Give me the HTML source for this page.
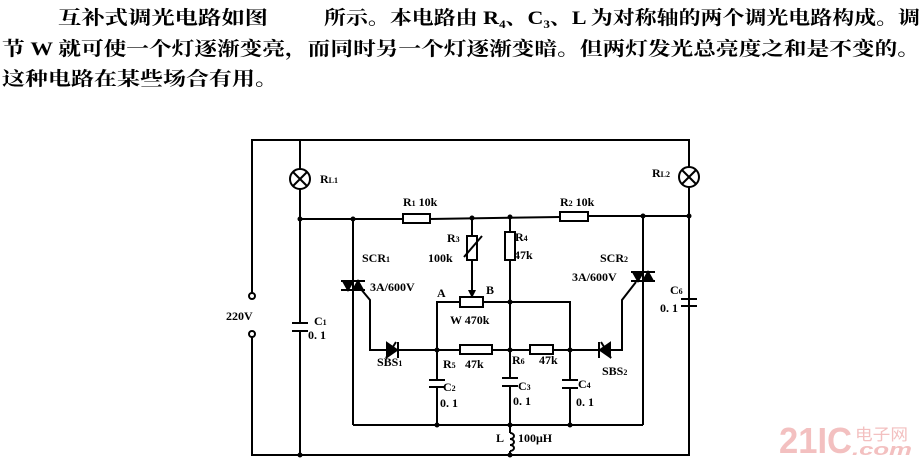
<!DOCTYPE html>
<html><head><meta charset="utf-8"><style>
html,body{margin:0;padding:0;background:#fff;}
svg{display:block;}
text{font-family:"Liberation Serif","Noto Serif CJK SC",serif;fill:#000;}
.c{font-family:"Liberation Serif","Noto Serif CJK SC",serif;font-size:19px;font-weight:bold;}
.l{font-size:12px;font-weight:bold;}
</style></head><body>
<svg width="924" height="467" viewBox="0 0 924 467" xmlns="http://www.w3.org/2000/svg">
<text class="c" x="58" y="24" textLength="210" lengthAdjust="spacingAndGlyphs">互补式调光电路如图</text>
<text class="c" x="324" y="24" textLength="596" lengthAdjust="spacingAndGlyphs">所示。本电路由 R₄、C₃、L 为对称轴的两个调光电路构成。调</text>
<text class="c" x="2" y="55" textLength="918" lengthAdjust="spacingAndGlyphs">节 W 就可使一个灯逐渐变亮，而同时另一个灯逐渐变暗。但两灯发光总亮度之和是不变的。</text>
<text class="c" x="2" y="85" textLength="276" lengthAdjust="spacingAndGlyphs">这种电路在某些场合有用。</text>

<g stroke="#000" stroke-width="2" fill="none">
<polyline points="252,293 252,140 689,140 689,167"/>
<polyline points="252,337 252,455 689,455 689,187"/>
<circle cx="252" cy="296" r="3"/>
<circle cx="252" cy="334" r="3"/>
<line x1="300" y1="140" x2="300" y2="169"/>
<line x1="300" y1="189" x2="300" y2="323"/>
<line x1="300" y1="331" x2="300" y2="455"/>
<circle cx="300" cy="179" r="10"/>
<line x1="293" y1="172" x2="307" y2="186"/><line x1="307" y1="172" x2="293" y2="186"/>
<line x1="292" y1="323" x2="308" y2="323"/><line x1="292" y1="331" x2="308" y2="331"/>
<circle cx="689" cy="177" r="10"/>
<line x1="682" y1="170" x2="696" y2="184"/><line x1="696" y1="170" x2="682" y2="184"/>
<line x1="689" y1="187" x2="689" y2="299"/>
<line x1="681" y1="299" x2="697" y2="299"/><line x1="681" y1="306" x2="697" y2="306"/>
<line x1="300" y1="219" x2="403" y2="219"/>
<rect x="403" y="214" width="27" height="9"/>
<line x1="430" y1="219" x2="560" y2="217"/>
<rect x="560" y="212" width="28" height="9"/>
<line x1="588" y1="216" x2="689" y2="216"/>
<line x1="353" y1="219" x2="353" y2="425"/>
<line x1="353" y1="425" x2="643" y2="425"/>
<line x1="643" y1="216" x2="643" y2="425"/>
<polygon points="343,281 353,281 348,290" fill="#000"/>
<polygon points="353,290 363,290 358,281" fill="#000"/>
<line x1="341" y1="281" x2="365" y2="281"/><line x1="341" y1="290" x2="365" y2="290"/>
<polyline points="360,288 370,300 370,350 437,350"/>
<polygon points="387,343 387,357 397,350" fill="#000"/>
<line x1="398" y1="342" x2="398" y2="358"/><line x1="396" y1="342" x2="386" y2="358"/>
<polygon points="633,272 643,272 638,281" fill="#000"/>
<polygon points="643,281 653,281 648,272" fill="#000"/>
<line x1="631" y1="272" x2="655" y2="272"/><line x1="631" y1="281" x2="655" y2="281"/>
<polyline points="636,282 622,300 622,350 570,350"/>
<polygon points="610,343 610,357 600,350" fill="#000"/>
<line x1="599" y1="342" x2="599" y2="358"/><line x1="601" y1="342" x2="611" y2="358"/>
<line x1="437" y1="350" x2="460" y2="350"/>
<rect x="460" y="345" width="32" height="9"/>
<line x1="492" y1="350" x2="530" y2="350"/>
<rect x="530" y="345" width="23" height="9"/>
<line x1="553" y1="350" x2="570" y2="350"/>
<polyline points="437,350 437,302 460,302"/>
<rect x="460" y="297" width="23" height="10"/>
<polyline points="483,302 570,302 570,380"/>
<line x1="570" y1="388" x2="570" y2="425"/>
<line x1="562" y1="380" x2="578" y2="380"/><line x1="562" y1="388" x2="578" y2="388"/>
<line x1="472" y1="218" x2="472" y2="236"/>
<rect x="467" y="236" width="10" height="24"/>
<line x1="472" y1="260" x2="472" y2="292"/>
<line x1="464" y1="257" x2="482" y2="236"/>
<line x1="510" y1="217" x2="510" y2="232"/>
<rect x="505" y="232" width="10" height="28"/>
<line x1="510" y1="260" x2="510" y2="378"/>
<line x1="510" y1="386" x2="510" y2="433"/>
<line x1="502" y1="378" x2="518" y2="378"/><line x1="502" y1="386" x2="518" y2="386"/>
<path d="M510,433 a4,3 0 1 1 0,6 a4,3 0 1 1 0,6 a4,3 0 1 1 0,6"/>
<line x1="510" y1="451" x2="510" y2="455"/>
<line x1="437" y1="350" x2="437" y2="380"/>
<line x1="429" y1="380" x2="445" y2="380"/><line x1="429" y1="387" x2="445" y2="387"/>
<line x1="437" y1="387" x2="437" y2="425"/>
</g>
<polygon points="468,290 476,290 472,298" fill="#000"/>
<g fill="#000">
<circle cx="300" cy="219" r="2.5"/><circle cx="353" cy="219" r="2.5"/><circle cx="472" cy="218" r="2.5"/>
<circle cx="510" cy="217" r="2.5"/><circle cx="643" cy="216" r="2.5"/><circle cx="689" cy="216" r="2.5"/>
<circle cx="437" cy="350" r="2.5"/><circle cx="510" cy="350" r="2.5"/><circle cx="570" cy="350" r="2.5"/>
<circle cx="510" cy="302" r="2.5"/><circle cx="437" cy="425" r="2.5"/><circle cx="510" cy="425" r="2.5"/>
<circle cx="570" cy="425" r="2.5"/><circle cx="300" cy="455" r="2.5"/><circle cx="510" cy="455" r="2.5"/>
</g>
<g class="l">
<text class="l" x="320" y="183">R<tspan font-size="8">L1</tspan></text>
<text class="l" x="403" y="206">R<tspan font-size="8">1</tspan> 10k</text>
<text class="l" x="447" y="242">R<tspan font-size="8">3</tspan></text>
<text class="l" x="428" y="262">100k</text>
<text class="l" x="362" y="262">SCR<tspan font-size="8">1</tspan></text>
<text class="l" x="370" y="291">3A/600V</text>
<text class="l" x="437" y="297">A</text>
<text class="l" x="486" y="294">B</text>
<text class="l" x="450" y="324">W 470k</text>
<text class="l" x="226" y="320">220V</text>
<text class="l" x="314" y="325">C<tspan font-size="8">1</tspan></text>
<text class="l" x="308" y="339">0. 1</text>
<text class="l" x="377" y="366">SBS<tspan font-size="8">1</tspan></text>
<text class="l" x="443" y="368">R<tspan font-size="8">5</tspan></text>
<text class="l" x="465" y="368">47k</text>
<text class="l" x="443" y="391">C<tspan font-size="8">2</tspan></text>
<text class="l" x="440" y="407">0. 1</text>
<text class="l" x="515" y="241">R<tspan font-size="8">4</tspan></text>
<text class="l" x="514" y="259">47k</text>
<text class="l" x="512" y="364">R<tspan font-size="8">6</tspan></text>
<text class="l" x="539" y="364">47k</text>
<text class="l" x="518" y="390">C<tspan font-size="8">3</tspan></text>
<text class="l" x="513" y="405">0. 1</text>
<text class="l" x="578" y="388">C<tspan font-size="8">4</tspan></text>
<text class="l" x="576" y="406">0. 1</text>
<text class="l" x="560" y="206">R<tspan font-size="8">2</tspan> 10k</text>
<text class="l" x="652" y="177">R<tspan font-size="8">L2</tspan></text>
<text class="l" x="600" y="262">SCR<tspan font-size="8">2</tspan></text>
<text class="l" x="572" y="281">3A/600V</text>
<text class="l" x="602" y="375">SBS<tspan font-size="8">2</tspan></text>
<text class="l" x="670" y="294">C<tspan font-size="8">6</tspan></text>
<text class="l" x="660" y="312">0. 1</text>
<text class="l" x="496" y="442">L</text>
<text class="l" x="518" y="442">100μH</text>
</g>
<text x="779" y="453" textLength="73" lengthAdjust="spacingAndGlyphs" style="font-family:'Liberation Sans',sans-serif;font-weight:bold;font-size:36px;fill:#f3c0c0">21IC</text>
<text x="855" y="440" textLength="53" lengthAdjust="spacingAndGlyphs" style="font-family:'Noto Sans CJK SC',sans-serif;font-size:16px;fill:#f3c0c0">电子网</text>
<text x="852" y="455" textLength="60" lengthAdjust="spacingAndGlyphs" style="font-family:'Liberation Sans',sans-serif;font-style:italic;font-weight:bold;font-size:17px;fill:#f3c0c0">.com</text>
</svg>
</body></html>
